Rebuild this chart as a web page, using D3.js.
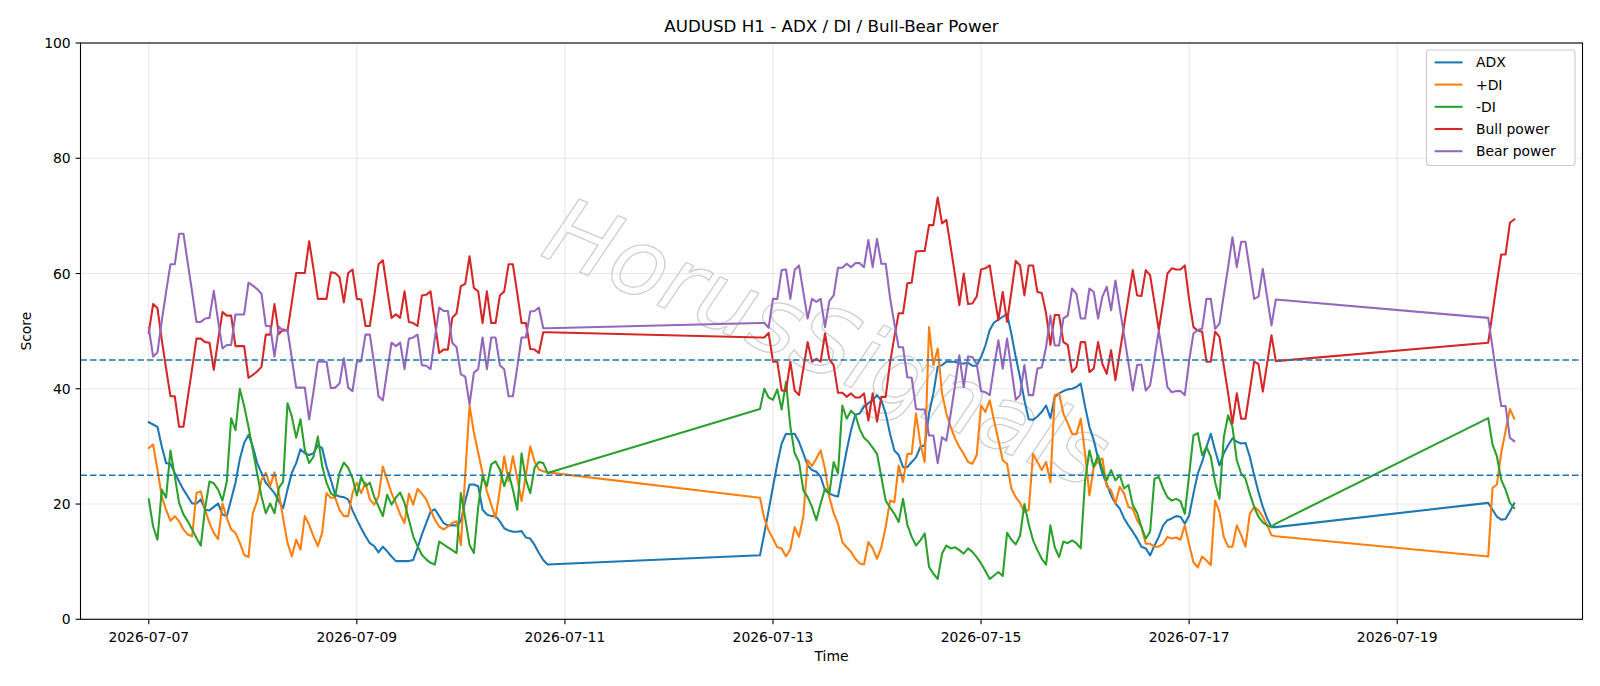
<!DOCTYPE html>
<html><head><meta charset="utf-8">
<script src="https://cdn.jsdelivr.net/npm/d3@7/dist/d3.min.js"></script>
<style>
html,body{margin:0;padding:0;background:#fff;}
svg{display:block;font-family:"DejaVu Sans",sans-serif;}
</style></head><body>
<svg id="chart" width="1600" height="686"></svg>
<script>
// ---- data ----
const sessionStarts = ["2026-07-07T00:00:00Z","2026-07-12T21:00:00Z","2026-07-19T21:00:00Z"];
const sessionLengths = [93,120,7];

const adx = [
34.2,33.8,33.4,30.0,27.1,27.0,25.4,23.9,22.5,21.3,
20.1,20.1,20.8,19.0,18.9,19.5,20.1,18.2,17.9,20.8,
23.7,27.8,30.6,32.0,30.0,27.1,25.4,23.7,22.8,21.9,
20.5,19.3,22.5,25.4,27.1,29.5,28.8,28.5,28.8,30.2,
29.7,26.5,24.2,21.6,21.3,21.2,20.8,18.9,17.3,15.8,
14.4,13.2,12.7,11.6,12.6,11.8,10.9,10.1,10.1,10.1,
10.1,10.3,12.4,14.7,16.7,18.7,19.1,17.9,16.7,16.3,
16.3,16.3,17.0,20.5,23.4,23.4,23.1,19.0,18.2,17.9,
17.9,17.0,15.8,15.4,15.2,15.2,15.3,14.2,14.0,12.9,
11.5,10.3,9.5,
11.1,14.9,18.9,23.0,27.0,30.5,32.2,32.1,32.2,30.8,
28.8,26.7,25.9,25.6,24.7,22.4,21.8,21.5,21.3,25.3,
29.3,32.8,35.5,35.7,36.9,37.5,38.0,38.9,38.0,35.7,
32.2,29.3,28.5,26.4,26.4,27.3,28.1,29.9,30.2,35.7,
39.2,43.8,44.1,44.7,44.7,44.7,44.4,44.4,44.5,44.0,
44.0,45.5,47.5,50.2,51.5,52.0,52.5,53.0,49.5,45.5,
42.0,38.0,34.7,34.6,35.2,36.0,37.1,34.9,38.6,39.2,
39.6,39.9,40.0,40.3,40.9,36.9,33.4,31.1,27.9,25.3,
23.5,21.5,20.1,19.2,17.5,16.3,15.2,14.0,12.6,12.3,
11.1,12.8,14.3,16.3,17.2,17.5,17.9,17.8,16.6,18.0,
21.8,25.3,27.3,29.9,32.2,29.3,26.7,28.8,30.2,31.4,
30.8,30.5,30.6,28.2,25.0,22.1,19.5,17.5,16.0,16.0,
20.2,19.0,17.8,17.3,17.4,18.7,20.1];

const plusDI = [
29.7,30.3,26.0,21.3,19.0,17.1,17.9,17.0,15.6,14.7,
14.4,21.9,22.2,19.0,16.7,15.0,13.9,20.1,17.6,15.6,
15.0,13.3,11.2,10.8,18.4,20.5,24.2,25.4,23.1,25.5,
21.9,17.5,13.3,10.9,13.8,12.1,17.9,16.4,14.4,12.7,
15.0,21.9,21.1,21.1,19.0,17.9,17.9,21.9,23.7,21.9,
23.7,20.8,19.9,21.3,26.5,24.2,21.9,20.2,18.2,16.7,
21.8,19.9,22.6,21.8,20.8,19.0,17.3,16.1,15.6,16.1,
16.7,17.0,12.9,25.0,37.1,32.4,28.9,25.4,22.2,19.9,
17.6,22.5,28.3,24.0,28.3,24.5,20.5,25.0,30.0,27.4,
26.0,25.7,25.5,
21.1,17.5,15.4,14.0,12.5,12.3,10.9,12.1,16.0,14.3,
17.8,27.6,26.6,27.9,29.3,26.1,21.2,18.4,16.6,13.4,
12.5,11.7,10.5,9.7,9.5,13.4,12.3,10.5,12.5,16.0,
20.6,20.3,26.7,23.8,28.7,28.7,35.7,30.5,27.3,50.7,
44.1,47.0,39.2,35.7,33.4,31.4,29.9,28.7,27.3,27.0,
28.5,37.1,36.0,38.0,34.5,31.1,27.6,27.0,22.7,21.2,
20.2,18.6,19.0,28.7,27.3,25.9,27.3,23.8,38.9,39.2,
35.7,34.0,32.2,32.1,34.8,28.7,21.5,26.4,27.5,27.9,
23.0,22.4,20.1,23.0,21.8,19.5,19.2,17.2,16.0,13.1,
13.1,12.6,12.6,13.1,14.3,14.0,14.2,13.8,16.3,13.0,
9.9,9.0,10.9,10.2,9.4,20.6,18.6,14.3,12.6,12.6,
16.3,14.6,12.6,18.3,19.5,18.9,17.8,16.3,14.6,14.4,
10.9,22.8,23.4,28.9,32.7,36.5,34.8];

const minusDI = [
20.8,16.1,13.8,22.5,21.1,29.3,24.8,20.2,18.2,17.0,
15.6,14.1,12.8,19.3,23.9,23.6,22.5,20.6,23.9,34.9,
32.8,40.0,37.0,33.4,29.4,25.3,21.3,18.4,20.1,18.4,
22.8,23.9,37.5,35.2,31.5,34.7,29.4,27.1,28.2,31.7,
26.6,23.7,21.9,21.3,25.4,27.2,26.3,24.5,21.5,24.7,
23.1,23.7,21.3,19.6,17.9,21.6,19.9,21.1,22.0,20.2,
17.3,14.4,12.7,11.2,10.4,9.8,9.5,13.5,13.0,12.5,
12.0,11.5,21.9,17.5,12.9,11.5,19.5,24.8,23.1,26.9,
27.4,26.0,23.1,25.4,22.5,19.0,28.8,24.2,21.9,26.3,
27.3,27.1,25.4,
36.5,40.0,38.5,38.1,39.9,36.4,41.2,33.5,28.8,27.3,
22.4,21.2,19.5,17.2,20.1,22.7,21.8,27.3,25.3,37.1,
34.8,36.2,35.5,33.0,31.5,30.8,29.8,28.7,24.7,20.6,
19.4,18.3,16.9,20.9,16.4,14.3,12.8,13.7,14.9,9.1,
7.9,7.0,11.4,12.8,12.3,12.5,12.0,11.4,12.3,11.7,
10.8,9.7,8.4,7.0,7.6,8.2,7.5,15.0,13.8,13.0,
14.5,20.0,16.5,13.7,12.0,10.5,9.5,16.3,12.5,10.8,
13.5,13.2,13.7,13.2,12.3,24.1,29.3,26.4,28.5,25.9,
24.1,25.9,24.1,25.0,22.7,23.3,19.8,18.5,16.0,14.0,
15.2,24.4,24.7,22.7,21.2,20.6,20.9,20.5,18.3,25.0,
31.9,32.3,28.5,29.9,28.2,23.8,20.9,31.6,35.4,33.4,
27.6,25.3,24.4,21.8,19.5,17.8,16.8,16.3,16.0,16.6,
34.9,30.3,28.3,24.2,22.5,20.2,19.3];

const bullPower = [
49.7,54.7,54.0,48.5,43.5,38.7,38.7,33.4,33.4,38.5,
43.5,48.7,48.7,48.1,48.0,43.3,48.5,53.3,52.7,52.7,
47.4,47.4,47.4,41.9,42.4,43.0,43.8,49.4,49.4,54.7,
49.5,50.3,50.0,55.0,60.1,60.1,60.1,65.6,60.8,55.6,
55.6,55.6,60.2,60.1,59.4,55.0,60.1,60.7,55.6,55.5,
50.9,50.9,56.0,61.6,62.3,57.2,52.3,52.9,52.3,56.9,
51.6,51.4,50.9,56.2,56.3,56.9,51.5,46.2,46.8,46.8,
52.3,53.1,57.8,58.2,63.0,57.5,56.9,51.4,56.9,51.4,
51.4,56.2,56.9,61.6,61.6,56.6,51.4,51.4,46.9,46.8,
46.2,49.8,49.8,
48.9,48.9,49.7,44.7,44.7,39.7,39.6,44.7,39.7,38.9,
43.5,48.1,44.7,45.2,44.7,49.6,45.1,44.1,39.3,39.3,
38.6,39.2,38.5,38.5,39.2,34.5,39.2,34.3,38.6,38.6,
44.5,49.0,53.1,53.1,58.3,58.4,63.8,63.9,63.9,68.4,
68.4,73.2,68.7,69.3,64.6,59.7,54.5,60.0,54.7,54.8,
56.0,60.7,60.9,61.4,56.5,51.9,56.8,51.6,56.8,62.2,
61.4,56.2,61.4,61.4,56.8,56.6,53.1,47.6,52.8,52.8,
48.1,47.6,42.9,43.8,48.1,48.1,42.9,43.5,48.1,44.3,
42.6,46.7,41.5,46.3,51.0,55.8,60.6,56.2,56.1,60.6,
59.7,55.0,50.2,55.0,60.0,60.9,60.7,60.7,61.4,55.5,
50.7,50.1,49.9,44.7,44.7,49.9,49.0,44.0,39.2,34.0,
39.2,34.8,34.8,39.7,44.7,44.3,39.5,44.4,49.3,44.8,
48.0,53.2,58.4,63.3,63.3,68.8,69.4];

const bearPower = [
50.6,45.6,46.3,51.8,56.8,61.6,61.6,66.9,66.9,61.8,
56.8,51.6,51.6,52.2,52.3,57.0,51.8,47.0,47.6,47.6,
52.9,52.9,52.9,58.4,57.9,57.3,56.5,50.9,50.9,45.6,
50.8,50.0,50.3,45.3,40.2,40.2,40.2,34.7,39.5,44.7,
44.7,44.7,40.1,40.2,40.9,45.3,40.2,39.6,44.7,44.8,
49.4,49.4,44.3,38.7,38.0,43.1,48.0,47.4,48.0,43.4,
48.7,48.9,49.4,44.1,44.0,43.4,48.8,54.1,53.5,53.5,
48.0,47.2,42.5,42.1,37.3,42.8,43.4,48.9,43.4,48.9,
48.9,44.1,43.4,38.7,38.7,43.7,48.9,48.9,53.4,53.5,
54.1,50.5,50.5,
51.4,51.4,50.6,55.6,55.6,60.6,60.7,55.6,60.6,61.4,
56.8,52.2,55.6,55.1,55.6,50.7,55.2,56.2,61.0,61.0,
61.7,61.1,61.8,61.8,61.1,65.8,61.1,66.0,61.7,61.7,
55.8,51.3,47.2,47.2,42.0,41.9,36.5,36.4,36.4,31.9,
31.9,27.1,31.6,31.0,35.7,40.6,45.8,40.3,45.6,45.5,
44.3,39.6,39.4,38.9,43.8,48.4,43.5,48.7,43.5,38.1,
38.9,44.1,38.9,38.9,43.5,43.7,47.2,52.7,47.5,47.5,
52.2,52.7,57.4,56.5,52.2,52.2,57.4,56.8,52.2,56.0,
57.7,53.6,58.8,54.0,49.3,44.5,39.7,44.1,44.2,39.7,
40.6,45.3,50.1,45.3,40.3,39.4,39.6,39.6,38.9,44.8,
49.6,50.2,50.4,55.6,55.6,50.4,51.3,56.3,61.1,66.3,
61.1,65.5,65.5,60.6,55.6,56.0,60.8,55.9,51.0,55.5,
52.3,47.1,41.9,37.0,37.0,31.5,30.9];

const seriesNames = ["ADX","+DI","-DI","Bull power","Bear power"];
const seriesColors = ["#1f77b4","#ff7f0e","#2ca02c","#d62728","#9467bd"];
const thresholds = [25,45];
const yTicks = [0,20,40,60,80,100];
const xTickLabels = ["2026-07-07","2026-07-09","2026-07-11","2026-07-13","2026-07-15","2026-07-17","2026-07-19"];
const titleText = "AUDUSD H1 - ADX / DI / Bull-Bear Power";

// ---- build hourly timestamps per trading session ----
const times = [];
sessionStarts.forEach((s,i)=>{
  const t0 = new Date(s).getTime();
  for(let k=0;k<sessionLengths[i];k++) times.push(new Date(t0 + k*3600000));
});
const allSeries = [adx, plusDI, minusDI, bullPower, bearPower];

// ---- layout ----
const L=80.5, R=1582.5, T=43, B=619.3;
const svg = d3.select("#chart");
const tMin = times[0], tMax = times[times.length-1];
const padT = (tMax - tMin)*0.05;
const x = d3.scaleUtc().domain([new Date(+tMin - padT), new Date(+tMax + padT)]).range([L,R]);
const y = d3.scaleLinear().domain([0,100]).range([B,T]);
const xTicks = xTickLabels.map(s => new Date(s+"T00:00:00Z"));

// grid
const grid = svg.append("g");
grid.selectAll(".gx").data(xTicks).enter().append("line")
  .attr("x1",d=>x(d)).attr("x2",d=>x(d)).attr("y1",T).attr("y2",B)
  .attr("stroke","#b0b0b0").attr("stroke-opacity",0.3).attr("stroke-width",1.1);
grid.selectAll(".gy").data(yTicks).enter().append("line")
  .attr("x1",L).attr("x2",R).attr("y1",d=>y(d)).attr("y2",d=>y(d))
  .attr("stroke","#b0b0b0").attr("stroke-opacity",0.3).attr("stroke-width",1.1);

// watermark
svg.append("text")
  .attr("transform","translate(815,372) rotate(23)")
  .attr("text-anchor","middle")
  .attr("font-family","DejaVu Sans")
  .attr("font-style","italic")
  .attr("font-size",92)
  .attr("fill","none").attr("stroke","#cfcfcf").attr("stroke-width",1.3)
  .text("HorusSignals");

// series lines
const clip = svg.append("clipPath").attr("id","clip").append("rect")
  .attr("x",L).attr("y",T).attr("width",R-L).attr("height",B-T);
const lineGen = (vals) => d3.line().x((d,i)=>x(times[i])).y(d=>y(d))(vals);
const lg = svg.append("g").attr("clip-path","url(#clip)");
allSeries.forEach((vals,si)=>{
  lg.append("path").attr("d",lineGen(vals)).attr("fill","none")
    .attr("stroke",seriesColors[si]).attr("stroke-width",2.08)
    .attr("stroke-linejoin","round").attr("stroke-linecap","square");
});
// threshold lines
thresholds.forEach(v=>{
  lg.append("line").attr("x1",L).attr("x2",R).attr("y1",y(v)).attr("y2",y(v))
    .attr("stroke","#1f77b4").attr("stroke-width",1.4).attr("stroke-dasharray","6.5,3");
});

// spines
svg.append("rect").attr("x",L).attr("y",T).attr("width",R-L).attr("height",B-T)
  .attr("fill","none").attr("stroke","#000").attr("stroke-width",1.1);

// x ticks
const xa = svg.append("g");
xTicks.forEach((d,i)=>{
  xa.append("line").attr("x1",x(d)).attr("x2",x(d)).attr("y1",B).attr("y2",B+4.9)
    .attr("stroke","#000").attr("stroke-width",1.1);
  xa.append("text").attr("x",x(d)).attr("y",642).attr("text-anchor","middle")
    .attr("font-size",13.9).attr("fill","#000").text(xTickLabels[i]);
});
// y ticks
yTicks.forEach(v=>{
  xa.append("line").attr("x1",L-4.9).attr("x2",L).attr("y1",y(v)).attr("y2",y(v))
    .attr("stroke","#000").attr("stroke-width",1.1);
  xa.append("text").attr("x",L-9.8).attr("y",y(v)+5).attr("text-anchor","end")
    .attr("font-size",13.9).attr("fill","#000").text(v);
});

// labels
svg.append("text").attr("x",(L+R)/2).attr("y",31.5).attr("text-anchor","middle")
  .attr("font-size",16.7).attr("fill","#000").text(titleText);
svg.append("text").attr("x",(L+R)/2).attr("y",661).attr("text-anchor","middle")
  .attr("font-size",13.9).attr("fill","#000").text("Time");
svg.append("text").attr("transform",`translate(30.5,${(T+B)/2}) rotate(-90)`)
  .attr("text-anchor","middle").attr("font-size",13.9).attr("fill","#000").text("Score");

// legend
const leg = svg.append("g");
leg.append("rect").attr("x",1426.5).attr("y",50).attr("width",148.5).attr("height",115.5)
  .attr("rx",3).attr("fill","#fff").attr("fill-opacity",0.8)
  .attr("stroke","#cccccc").attr("stroke-width",1.1);
seriesNames.forEach((n,i)=>{
  const ry = 62.4 + i*22.2;
  leg.append("line").attr("x1",1434.7).attr("x2",1462.5).attr("y1",ry).attr("y2",ry)
    .attr("stroke",seriesColors[i]).attr("stroke-width",2.08);
  leg.append("text").attr("x",1476).attr("y",ry+5).attr("font-size",13.9)
    .attr("fill","#000").text(n);
});
</script>
</body></html>
